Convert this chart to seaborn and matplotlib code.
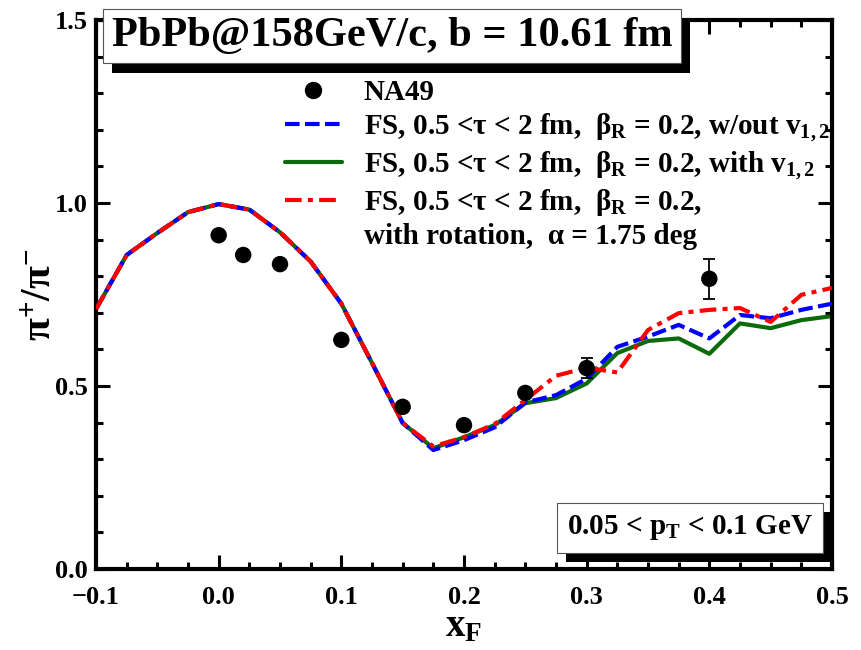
import numpy as np
import pandas as pd
import matplotlib
matplotlib.use("Agg")
import matplotlib.pyplot as plt
import matplotlib.patheffects as pe
from matplotlib.lines import Line2D
from matplotlib.ticker import MultipleLocator, FuncFormatter
import seaborn as sns

# ---------------- data ----------------
x_model = [-0.1, -0.075, -0.05, -0.025, 0.0, 0.025, 0.05, 0.075, 0.1, 0.125, 0.15,
           0.175, 0.2, 0.225, 0.25, 0.275, 0.3, 0.325, 0.35, 0.375, 0.4, 0.425,
           0.45, 0.475, 0.5]
fs_without_v12 = [0.71, 0.858, 0.918, 0.975, 0.997, 0.982, 0.92, 0.84, 0.725, 0.563, 0.399,
                  0.325, 0.352, 0.387, 0.455, 0.475, 0.52, 0.607, 0.635, 0.667, 0.63, 0.694,
                  0.685, 0.708, 0.725]
fs_with_v12 = [0.71, 0.858, 0.918, 0.975, 0.997, 0.982, 0.92, 0.84, 0.725, 0.563, 0.399,
               0.33, 0.36, 0.393, 0.453, 0.467, 0.507, 0.59, 0.623, 0.63, 0.588, 0.671,
               0.658, 0.68, 0.691]
fs_rotation = [0.71, 0.858, 0.918, 0.975, 0.997, 0.982, 0.92, 0.84, 0.725, 0.563, 0.399,
               0.335, 0.36, 0.396, 0.462, 0.528, 0.55, 0.537, 0.653, 0.699, 0.708, 0.713,
               0.675, 0.749, 0.768]

x_na49 = [0.0, 0.02, 0.05, 0.1, 0.15, 0.2, 0.25, 0.3, 0.4]
y_na49 = [0.912, 0.858, 0.833, 0.626, 0.443, 0.393, 0.481, 0.549, 0.793]
err_na49 = [0.0, 0.0, 0.0, 0.0, 0.0, 0.0, 0.0, 0.027, 0.055]

labels = ["NA49",
          "FS, 0.5 <τ < 2 fm,  β$_{R}$ = 0.2, w/out v$_{1,2}$",
          "FS, 0.5 <τ < 2 fm,  β$_{R}$ = 0.2, with v$_{1,2}$",
          "FS, 0.5 <τ < 2 fm,  β$_{R}$ = 0.2,",
          "with rotation,  α = 1.75 deg"]
title_text = "PbPb@158GeV/c, b = 10.61 fm"
pt_text = "0.05 < p$_{T}$ < 0.1 GeV"

# ---------------- style ----------------
sns.set_style("ticks")
plt.rcParams['font.family'] = ['Liberation Serif', 'DejaVu Serif']
plt.rcParams['font.weight'] = 'bold'
plt.rcParams['axes.labelweight'] = 'bold'
plt.rcParams['axes.edgecolor'] = 'black'
plt.rcParams['xtick.color'] = 'black'
plt.rcParams['ytick.color'] = 'black'
plt.rcParams['text.color'] = 'black'
plt.rcParams['axes.labelcolor'] = 'black'
plt.rcParams['mathtext.fontset'] = 'custom'
plt.rcParams['mathtext.rm'] = 'Liberation Serif:bold'
plt.rcParams['mathtext.it'] = 'Liberation Serif:bold:italic'
plt.rcParams['mathtext.bf'] = 'Liberation Serif:bold'
plt.rcParams['mathtext.default'] = 'rm'

fig = plt.figure(figsize=(8.61, 6.5), dpi=100)
ax = fig.add_axes([96/861, 1-569/650, (832-96)/861, (569-20)/650])

df = pd.DataFrame({"x": x_model, "blue": fs_without_v12,
                   "green": fs_with_v12, "red": fs_rotation})

lw = 3.0
sns.lineplot(data=df, x="x", y="blue", ax=ax, color="#0000ff", lw=lw, zorder=3)
ax.lines[-1].set_dashes((3.5, 1.3))
sns.lineplot(data=df, x="x", y="green", ax=ax, color="#0b6b0b", lw=lw, zorder=2)
sns.lineplot(data=df, x="x", y="red", ax=ax, color="#ff0000", lw=lw, zorder=4)
ax.lines[-1].set_dashes((4.0, 1.5, 1.2, 1.5))

ax.errorbar(x_na49, y_na49, yerr=err_na49, fmt='none', ecolor='black',
            elinewidth=1.3, capsize=4, capthick=1.3, zorder=5)
sns.scatterplot(x=x_na49, y=y_na49, ax=ax, color='black', s=140,
                edgecolor='none', zorder=6)

ax.set_xlim(-0.1, 0.5)
ax.set_ylim(0.0, 1.5)
ax.xaxis.set_major_locator(MultipleLocator(0.1))
ax.xaxis.set_minor_locator(MultipleLocator(0.025))
ax.yaxis.set_major_locator(MultipleLocator(0.5))
ax.yaxis.set_minor_locator(MultipleLocator(0.1))
fmt = FuncFormatter(lambda v, p: f"{v:.1f}".replace("-", "\u2212") if abs(v) > 1e-9 else "0.0")
ax.xaxis.set_major_formatter(fmt)
ax.yaxis.set_major_formatter(fmt)
ax.tick_params(which='both', direction='in', top=True, right=True,
               width=2.2, labelsize=19, colors='black')
ax.tick_params(which='major', length=10)
ax.tick_params(which='minor', length=5)
ax.tick_params(axis='x', pad=12)
ax.tick_params(axis='y', pad=6)
for s in ax.spines.values():
    s.set_linewidth(3)
    s.set_visible(True)
    s.set_color('black')

ax.set_xlabel("x$_{F}$", fontsize=28, labelpad=0)
ax.set_ylabel("π$^{+}$/π$^{-}$", fontsize=30, labelpad=-4)

# ---------------- legend ----------------
handles = [
    Line2D([], [], marker='o', ls='none', color='black', markersize=11.5),
    Line2D([], [], color="#0000ff", lw=lw, dashes=(3.5, 1.3)),
    Line2D([], [], color="#0b6b0b", lw=lw),
    Line2D([], [], color="#ff0000", lw=lw, dashes=(4.0, 1.5, 1.2, 1.5)),
    Line2D([], [], ls='none'),
]
leg = fig.legend(handles, labels, loc='upper left',
                 bbox_to_anchor=(285/861, 1-79/650), frameon=False,
                 fontsize=21, handlelength=1.95, handletextpad=0.75,
                 labelspacing=0.18, borderpad=0, borderaxespad=0)

# ---------------- boxed annotations with shadow ----------------
shadow = [pe.withSimplePatchShadow(offset=(6.5, -6.5), shadow_rgbFace='black', alpha=1.0)]
t1 = fig.text(392/861, 1-36/650, title_text, fontsize=30.5, ha='center', va='center',
              bbox=dict(boxstyle='square,pad=0.2', fc='white', ec='#555555', lw=0.8),
              zorder=10)
t1.get_bbox_patch().set_path_effects(shadow)
t2 = fig.text(690/861, 1-528/650, pt_text, fontsize=21, ha='center', va='center',
              bbox=dict(boxstyle='square,pad=0.35', fc='white', ec='#555555', lw=0.8),
              zorder=10)
t2.get_bbox_patch().set_path_effects(shadow)

fig.savefig("out.png", dpi=100)
